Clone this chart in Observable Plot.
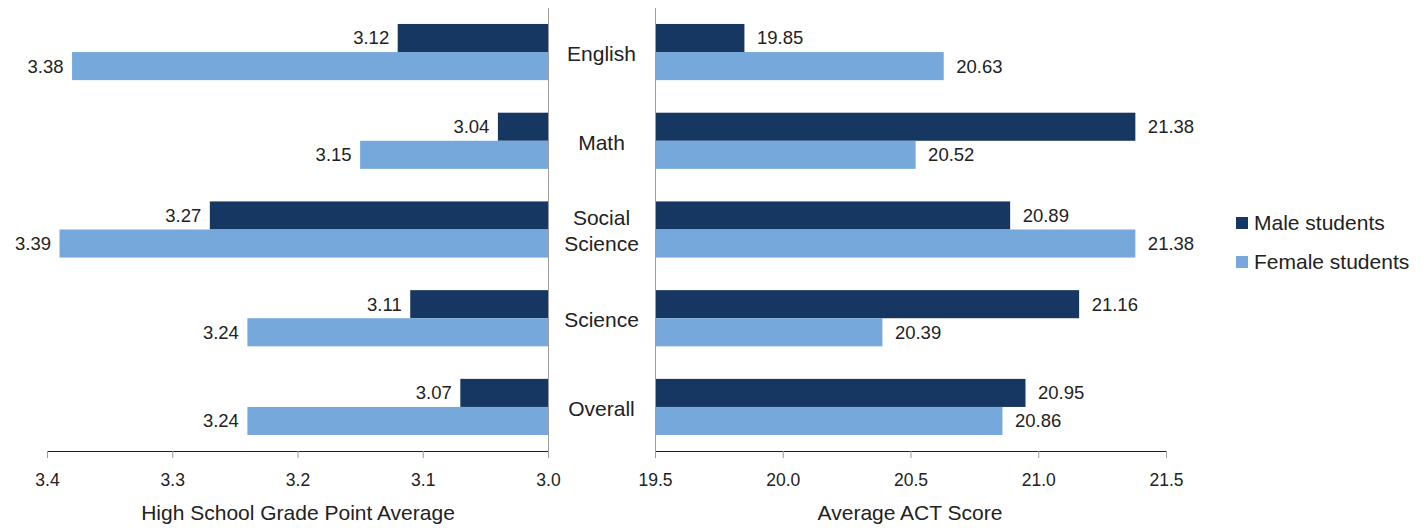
<!DOCTYPE html>
<html>
<head>
<meta charset="utf-8">
<script src="https://cdn.jsdelivr.net/npm/d3@7"></script>
<script src="https://cdn.jsdelivr.net/npm/@observablehq/plot@0.6"></script>
<style>
  html, body { margin: 0; padding: 0; background: #fff; }
  #wrap { position: relative; width: 1424px; height: 532px; display: flex; flex-direction: row; font-family: "Liberation Sans", Arial, sans-serif; color: #222; background: #fff; }
  #wrap svg { display: block; overflow: visible; }
  #wrap svg.left { position: relative; z-index: 2; }
  #wrap svg [aria-label^="x-axis tick"] path,
  #wrap svg [aria-label^="x-axis tick"] line,
  #wrap svg [aria-label="x-axis"] line,
  #wrap svg [aria-label="x-axis"] path { stroke: #9b9b9b; }
  .legend { position: absolute; left: 1236px; font-size: 21px; color: #222; display: flex; align-items: center; line-height: 1; }
  .legend span.sw { display: inline-block; width: 12px; height: 12px; margin-right: 6px; }
</style>
</head>
<body>
<div id="wrap"></div>
<script>
// ---- data ----
const categories = ["English", "Math", "Social\nScience", "Science", "Overall"];
const gpaMale   = [3.12, 3.04, 3.27, 3.11, 3.07];
const gpaFemale = [3.38, 3.15, 3.39, 3.24, 3.24];
const actMale   = [19.85, 21.38, 20.89, 21.16, 20.95];
const actFemale = [20.63, 20.52, 21.38, 20.39, 20.86];
const gpaTicks  = [3.4, 3.3, 3.2, 3.1, 3.0];
const actTicks  = [19.5, 20.0, 20.5, 21.0, 21.5];
const gpaBase = 3.0;
const actBase = 19.5;
const seriesNames = ["Male students", "Female students"];
const gpaTitle = "High School Grade Point Average";
const actTitle = "Average ACT Score";

// ---- styling ----
const NAVY = "#153762";
const LIGHT = "#76a8db";
const AXIS = "#9b9b9b";
const TEXT = "#222";
const FONT = "'Liberation Sans', Arial, sans-serif";
const VAL = 18.5;

const H = 532, MT = 8, MB = 81;
const padInner = 0.367, padOuter = 0.18;
const bw = d3.scaleBand().domain(categories).range([MT, H - MB]).paddingInner(padInner).paddingOuter(padOuter).bandwidth();
const half = bw / 2;

const gpa = categories.map((c, i) => ({cat: c, male: gpaMale[i], female: gpaFemale[i]}));
const act = categories.map((c, i) => ({cat: c, male: actMale[i], female: actFemale[i]}));

const yOpts = {domain: categories, range: [MT, H - MB], paddingInner: padInner, paddingOuter: padOuter, round: false, axis: null};
const style = {fontSize: "17.5px", fontFamily: FONT, color: TEXT, background: "transparent", overflow: "visible"};

const left = Plot.plot({
  width: 600, height: H,
  marginTop: MT, marginBottom: MB, marginLeft: 47, marginRight: 52,
  style,
  x: {domain: [gpaBase, 3.4], reverse: true, ticks: gpaTicks, tickFormat: d3.format(".1f"), tickSize: 7, tickPadding: 15, label: null, line: true},
  y: yOpts,
  marks: [
    Plot.barX(gpa, {y: "cat", x1: () => gpaBase, x2: "male", fill: NAVY, insetBottom: half}),
    Plot.barX(gpa, {y: "cat", x1: () => gpaBase, x2: "female", fill: LIGHT, insetTop: half}),
    Plot.text(gpa, {y: "cat", x: "male", text: d => d.male.toFixed(2), dy: -half / 2, dx: -9, textAnchor: "end", fill: TEXT, fontSize: VAL}),
    Plot.text(gpa, {y: "cat", x: "female", text: d => d.female.toFixed(2), dy: half / 2, dx: -9, textAnchor: "end", fill: TEXT, fontSize: VAL}),
    Plot.ruleX([gpaBase], {stroke: AXIS}),
    Plot.text(categories, {y: d => d, text: d => d, frameAnchor: "right", dx: 53, textAnchor: "middle", fontSize: 21, lineHeight: 1.24, fill: TEXT}),
    Plot.text([gpaTitle], {text: d => d, frameAnchor: "bottom", dy: 68, fontSize: 21, fill: TEXT})
  ]
});
left.classList.add("left");

const right = Plot.plot({
  width: 824, height: H,
  marginTop: MT, marginBottom: MB, marginLeft: 55, marginRight: 258,
  style,
  x: {domain: [actBase, 21.5], ticks: actTicks, tickFormat: d3.format(".1f"), tickSize: 7, tickPadding: 15, label: null, line: true},
  y: yOpts,
  marks: [
    Plot.barX(act, {y: "cat", x1: () => actBase, x2: "male", fill: NAVY, insetBottom: half}),
    Plot.barX(act, {y: "cat", x1: () => actBase, x2: "female", fill: LIGHT, insetTop: half}),
    Plot.text(act, {y: "cat", x: "male", text: d => d.male.toFixed(2), dy: -half / 2, dx: 12, textAnchor: "start", fill: TEXT, fontSize: VAL}),
    Plot.text(act, {y: "cat", x: "female", text: d => d.female.toFixed(2), dy: half / 2, dx: 12, textAnchor: "start", fill: TEXT, fontSize: VAL}),
    Plot.ruleX([actBase], {stroke: AXIS}),
    Plot.text([actTitle], {text: d => d, frameAnchor: "bottom", dy: 68, dx: -1, fontSize: 21, fill: TEXT})
  ]
});

const wrap = document.getElementById("wrap");
wrap.appendChild(left);
wrap.appendChild(right);

[[seriesNames[0], NAVY, 212], [seriesNames[1], LIGHT, 251]].forEach(([name, col, top]) => {
  const el = document.createElement("div");
  el.className = "legend";
  el.style.top = top + "px";
  const sw = document.createElement("span");
  sw.className = "sw";
  sw.style.background = col;
  el.appendChild(sw);
  el.appendChild(document.createTextNode(name));
  wrap.appendChild(el);
});
</script>
</body>
</html>
